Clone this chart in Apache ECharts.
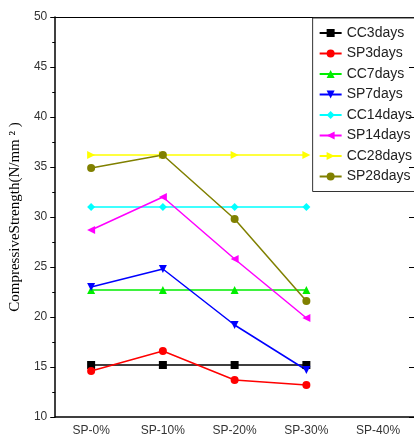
<!DOCTYPE html><html><head><meta charset="utf-8"><script src="https://cdn.jsdelivr.net/npm/echarts@6/dist/echarts.min.js"></script><style>body{margin:0}#c{width:414px;height:443px}</style></head><body><div id="c"></div><script>
const categories=['SP-0%','SP-10%','SP-20%','SP-30%','SP-40%'];
const CC3=[15.2,15.2,15.2,15.2];
const SP3=[14.6,16.6,13.7,13.2];
const CC7=[22.7,22.7,22.7,22.7];
const SP7=[23.0,24.8,19.2,14.7];
const CC14=[31.0,31.0,31.0,31.0];
const SP14=[28.7,32.0,25.8,19.9];
const CC28=[36.2,36.2,36.2,36.2];
const SP28=[34.9,36.2,29.8,21.6];
const defs=[['CC3days',CC3,'#000000','rect'],['SP3days',SP3,'#ff0000','circle'],['CC7days',CC7,'#00ee00','triangle'],['SP7days',SP7,'#0000ff','path://M0,0L10,0L5,10Z'],['CC14days',CC14,'#00ffff','diamond'],['SP14days',SP14,'#ff00ff','path://M0,5L10,0L10,10Z'],['CC28days',CC28,'#ffff00','path://M10,5L0,0L0,10Z'],['SP28days',SP28,'#808000','circle']];
const ax={axisLine:{show:true,lineStyle:{color:'#000',width:1.5}},axisLabel:{color:'#333',fontSize:12,fontFamily:'Liberation Sans'}};
const c=echarts.init(document.getElementById('c'));
c.setOption({animation:false,
grid:{left:53,top:17,width:362,height:400},
legend:{orient:'vertical',right:-2,top:18,itemGap:6.5,itemWidth:22,itemHeight:10,padding:[8,4,8,6],borderColor:'#333',borderWidth:1,textStyle:{fontSize:14,color:'#222',fontFamily:'Liberation Sans'},data:defs.map(d=>d[0])},
xAxis:[{type:'category',data:categories,boundaryGap:true,...ax,axisTick:{inside:false},axisLabel:{...ax.axisLabel,margin:8}},
{type:'category',data:categories,position:'top',axisLine:{lineStyle:{color:'#000'}},axisTick:{inside:true},axisLabel:{show:false}}],
yAxis:[{type:'value',min:10,max:50,interval:5,...ax,axisTick:{show:true,inside:false},minorTick:{show:true,splitNumber:2},splitLine:{show:false},
name:'CompressiveStrength(N/mm ² )',nameLocation:'middle',nameGap:30,nameTextStyle:{fontFamily:'Liberation Serif',fontSize:15,color:'#000'}},
{type:'value',min:10,max:50,interval:5,position:'right',axisLine:{show:true,lineStyle:{color:'#000'}},axisTick:{show:true,inside:true},axisLabel:{show:false},splitLine:{show:false}}],
series:defs.map(d=>({name:d[0],type:'line',data:d[1],symbol:d[3],symbolSize:8,lineStyle:{color:d[2],width:1.5},itemStyle:{color:d[2]}}))});
</script></body></html>
